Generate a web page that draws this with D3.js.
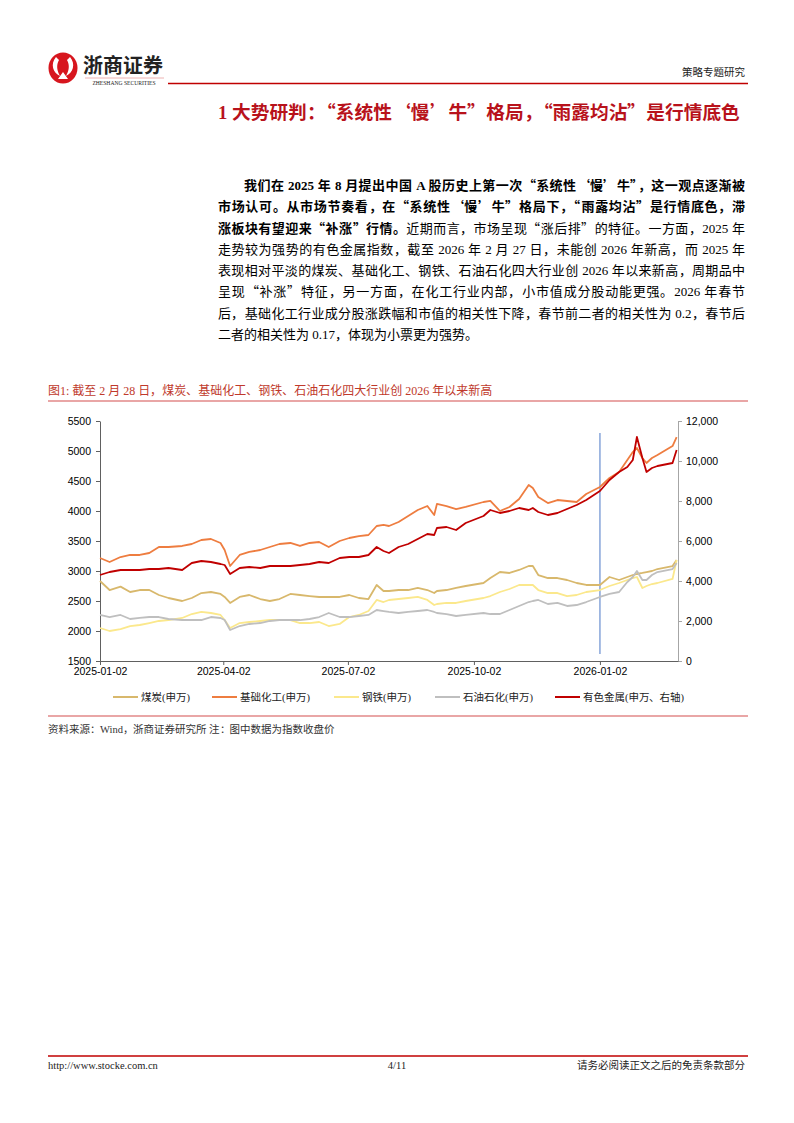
<!DOCTYPE html>
<html>
<head>
<meta charset="utf-8">
<script src="https://cdn.jsdelivr.net/npm/d3@7"></script>
<style>
  @font-face { font-family: "CJKPunct"; font-weight: normal;
    src: local("Noto Sans CJK SC"), local("Noto Sans CJK SC Regular"), local("NotoSansCJKsc-Regular");
    unicode-range: U+2018-201D, U+3000-303F, U+FF00-FFEF; }
  @font-face { font-family: "CJKPunct"; font-weight: bold;
    src: local("Noto Sans CJK SC Bold"), local("NotoSansCJKsc-Bold");
    unicode-range: U+2018-201D, U+3000-303F, U+FF00-FFEF; }
  body { margin: 0; background: #fff; }
  #page { position: relative; width: 794px; height: 1123px; overflow: hidden; }
  #page svg { position: absolute; left: 0; top: 0; }
  .cjk { font-family: "CJKPunct", "Liberation Serif", "Noto Sans CJK SC", serif; font-feature-settings: "fwid" 1; }
  .para { position: absolute; left: 218px; top: 175px; width: 527px;
          font-size: 13px; line-height: 21.3px; color: #000; }
  .para div { text-align: justify; text-align-last: justify; white-space: nowrap; }
  .para div.last { text-align-last: left; }
  .para div.first { padding-left: 26px; }
  .para b { font-weight: bold; }
</style>
</head>
<body>
<div id="page">
  <div class="para cjk">
    <div class="first"><b>我们在 2025 年 8 月提出中国 A 股历史上第一次“系统性‘慢’牛”，这一观点逐渐被</b></div>
    <div><b>市场认可。从市场节奏看，在“系统性‘慢’牛”格局下，“雨露均沾”是行情底色，滞</b></div>
    <div><b>涨板块有望迎来“补涨”行情。</b>近期而言，市场呈现“涨后排”的特征。一方面，2025 年</div>
    <div>走势较为强势的有色金属指数，截至 2026 年 2 月 27 日，未能创 2026 年新高，而 2025 年</div>
    <div>表现相对平淡的煤炭、基础化工、钢铁、石油石化四大行业创 2026 年以来新高，周期品中</div>
    <div>呈现“补涨”特征，另一方面，在化工行业内部，小市值成分股动能更强。2026 年春节</div>
    <div>后，基础化工行业成分股涨跌幅和市值的相关性下降，春节前二者的相关性为 0.2，春节后</div>
    <div class="last">二者的相关性为 0.17，体现为小票更为强势。</div>
  </div>
</div>
<script>
// ---- data (weekly-ish closes) ----
let dates = ["2025-01-02","2025-01-09","2025-01-17","2025-01-24","2025-01-31","2025-02-07","2025-02-14","2025-02-21","2025-03-03","2025-03-10","2025-03-17","2025-03-24","2025-03-31",
  "2025-04-03","2025-04-07",
  "2025-04-14","2025-04-21","2025-04-29","2025-05-06","2025-05-13","2025-05-21","2025-05-28","2025-06-04","2025-06-11","2025-06-18","2025-06-26","2025-07-03","2025-07-10","2025-07-17",
  "2025-07-23","2025-07-28","2025-08-01",
  "2025-08-08","2025-08-15","2025-08-22","2025-08-29",
  "2025-09-03",
  "2025-09-05","2025-09-12","2025-09-19","2025-09-26","2025-10-09","2025-10-14","2025-10-21","2025-10-28","2025-11-04","2025-11-11",
  "2025-11-14",
  "2025-11-18","2025-11-25","2025-12-02","2025-12-09","2025-12-16","2025-12-23","2026-01-02","2026-01-09","2026-01-16",
  "2026-01-22","2026-01-26","2026-01-29","2026-02-02","2026-02-05","2026-02-09",
  "2026-02-13","2026-02-24","2026-02-27"];

// 煤炭(申万) - left axis
let coal = [2833,2683,2740,2650,2683,2683,2600,2550,2500,2550,2633,2650,2617,
  2567,2467,
  2567,2600,2533,2500,2533,2617,2600,2583,2567,2567,2567,2600,2550,2533,
  2767,2667,2667,
  2683,2683,2717,2683,
  2633,
  2667,2683,2717,2750,2800,2883,2983,2967,3017,3083,
  3083,
  2933,2883,2883,2850,2800,2767,2767,2900,2850,
  2900,2933,2950,2967,2983,3000,
  3033,3083,3183];

// 基础化工(申万) - left axis
let chem = [3217,3150,3233,3267,3267,3300,3400,3400,3417,3450,3517,3533,3467,
  3350,3083,
  3267,3317,3350,3400,3450,3467,3417,3467,3483,3400,3500,3550,3583,3600,
  3750,3767,3750,
  3817,3917,4017,4083,
  3933,
  4117,4083,4033,4067,4150,4167,4000,4067,4200,4433,
  4383,
  4233,4133,4183,4167,4150,4283,4400,4550,4650,
  4850,4983,5050,4883,4800,4883,
  4933,5083,5233];

// 钢铁(申万) - left axis
let steel = [2050,2000,2033,2083,2100,2133,2167,2183,2217,2283,2317,2300,2267,
  2183,2050,
  2133,2150,2167,2183,2183,2183,2133,2133,2150,2083,2117,2233,2267,2333,
  2517,2483,2517,
  2533,2550,2567,2517,
  2433,
  2450,2467,2467,2500,2550,2583,2650,2700,2767,2767,
  2767,
  2683,2633,2633,2583,2600,2650,2683,2750,2800,
  2850,2883,2900,2717,2750,2783,
  2800,2867,3183];

// 石油石化(申万) - left axis
let petro = [2267,2233,2267,2200,2217,2233,2233,2200,2183,2183,2183,2233,2217,
  2183,2017,
  2083,2117,2133,2167,2183,2183,2183,2200,2233,2300,2233,2233,2250,2267,
  2350,2333,2317,
  2300,2317,2333,2350,
  2317,
  2300,2283,2250,2267,2300,2283,2283,2350,2417,2483,
  2500,
  2517,2450,2467,2417,2433,2483,2567,2617,2650,
  2817,2900,3000,2850,2850,2933,
  2983,3033,3133];

// 有色金属(申万) - right axis
let metal = [4300,4450,4550,4550,4550,4600,4600,4650,4550,4900,5000,4950,4850,
  4800,4350,
  4650,4700,4650,4750,4750,4750,4800,4850,4950,4900,5150,5200,5200,5300,
  5700,5500,5400,
  5700,5850,6100,6350,
  6300,
  6650,6700,6550,6900,7250,7550,7400,7500,7650,7550,
  7650,
  7450,7300,7400,7600,7800,8050,8500,9050,9450,
  9700,10050,11200,10150,9450,9650,
  9750,9900,10550];

let seriesNames = ["煤炭(申万)", "基础化工(申万)", "钢铁(申万)", "石油石化(申万)", "有色金属(申万、右轴)"];
let seriesColors = ["#d8b86c", "#ee7d40", "#fbe88c", "#bfbfbf", "#c00000"];
let leftTicks = [1500, 2000, 2500, 3000, 3500, 4000, 4500, 5000, 5500];
let rightTicks = [0, 2000, 4000, 6000, 8000, 10000, 12000];
let xTicks = ["2025-01-02", "2025-04-02", "2025-07-02", "2025-10-02", "2026-01-02"];
let markerDate = "2026-01-02";   // blue vertical marker
let markerRange = [350, 11400];  // on right axis

let parse = d3.timeParse("%Y-%m-%d");
let red = "#c00000";
let sans = '"Liberation Sans", Arial, sans-serif';

let svg = d3.select('#page').append('svg')
    .attr('width', 794)
    .attr('height', 1123);

// small helper for CJK text with full width punctuation
function cjkText(xp, yp, size, fill, str) {
    return svg.append('text').attr('class', 'cjk')
        .attr('x', xp).attr('y', yp)
        .attr('font-size', size).attr('fill', fill)
        .text(str);
}

// ---- header ----
let logo = svg.append('g').attr('transform', 'translate(63,68)');
logo.append('ellipse').attr('rx', 14.5).attr('ry', 15.5).attr('fill', '#d7161e');
logo.append('path')
    .attr('d', 'M-7,-11 C-13,-4 -10,5 -3,8 C-6,3 -7,-3 -4,-8 Z M7,-11 C13,-4 10,5 3,8 C6,3 7,-3 4,-8 Z M-5,11 L0,4 L5,11 Z')
    .attr('fill', '#fff');
svg.append('text').attr('x', 83).attr('y', 73)
    .attr('font-family', '"Noto Sans CJK SC", sans-serif').attr('font-weight', 'bold')
    .attr('font-size', 20).attr('fill', '#222').text('浙商证券');
svg.append('line').attr('x1', 85).attr('x2', 164).attr('y1', 78).attr('y2', 78)
    .attr('stroke', '#e8a0a0').attr('stroke-width', 0.8);
svg.append('text').attr('x', 124).attr('y', 85).attr('text-anchor', 'middle')
    .attr('font-family', '"Liberation Serif", serif').attr('font-size', 5.6)
    .attr('fill', '#222').text('ZHESHANG SECURITIES');
svg.append('line').attr('x1', 168).attr('x2', 748).attr('y1', 83.5).attr('y2', 83.5)
    .attr('stroke', red).attr('stroke-width', 1.6);
cjkText(745, 76, 10.5, '#222', '策略专题研究').attr('text-anchor', 'end');

// ---- section title ----
cjkText(218, 119, 18.7, '#b8121b', '1 大势研判：“系统性‘慢’牛”格局，“雨露均沾”是行情底色')
    .attr('font-weight', 'bold');

// ---- figure caption ----
cjkText(48, 395, 12, '#c0392b', '图1:   截至 2 月 28 日，煤炭、基础化工、钢铁、石油石化四大行业创 2026 年以来新高');
svg.append('line').attr('x1', 48).attr('x2', 748).attr('y1', 401).attr('y2', 401)
    .attr('stroke', red).attr('stroke-width', 0.7);

// ---- chart ----
let x = d3.scaleTime().domain([parse("2025-01-02"), parse("2026-02-28")]).range([100, 678]);
let yL = d3.scaleLinear().domain([1500, 5500]).range([661, 421]);
let yR = d3.scaleLinear().domain([0, 12000]).range([661, 421]);

let leftAxis = svg.append('g').attr('transform', 'translate(100,0)')
    .call(d3.axisLeft(yL).tickValues(leftTicks).tickSize(4).tickPadding(5).tickSizeOuter(0)
        .tickFormat(d3.format('d')));
let rightAxis = svg.append('g').attr('transform', 'translate(678,0)')
    .call(d3.axisRight(yR).tickValues(rightTicks).tickSize(4).tickPadding(4).tickSizeOuter(0)
        .tickFormat(d3.format(',')));
let bottomAxis = svg.append('g').attr('transform', 'translate(0,661)')
    .call(d3.axisBottom(x).tickValues(xTicks.map(parse)).tickSize(4).tickPadding(3).tickSizeOuter(0)
        .tickFormat(d3.timeFormat('%Y-%m-%d')));

[leftAxis, rightAxis, bottomAxis].forEach(function(a) {
    a.selectAll('text').attr('font-family', sans).attr('font-size', 10.5).attr('fill', '#000');
});
leftAxis.selectAll('path, line').attr('stroke', '#606060');
bottomAxis.selectAll('path, line').attr('stroke', '#606060');
rightAxis.selectAll('path, line').attr('stroke', '#a6a6a6');

// blue marker
svg.append('line')
    .attr('x1', x(parse(markerDate))).attr('x2', x(parse(markerDate)))
    .attr('y1', yR(markerRange[1])).attr('y2', yR(markerRange[0]))
    .attr('stroke', '#8eaadc').attr('stroke-width', 1.6);

let series = [coal, chem, steel, petro, metal];
let scales = [yL, yL, yL, yL, yR];
series.forEach(function(vals, k) {
    let line = d3.line()
        .x(function(d, i) { return x(parse(dates[i])); })
        .y(function(d) { return scales[k](d); });
    svg.append('path')
        .datum(vals)
        .attr('d', line)
        .attr('fill', 'none')
        .attr('stroke', seriesColors[k])
        .attr('stroke-width', 1.8)
        .attr('stroke-linejoin', 'round');
});

// ---- legend ----
let legendX = [113, 212, 334, 435, 555];
let legend = svg.selectAll('.leg')
    .data(seriesNames)
    .enter()
    .append('g')
    .attr('transform', function(d, i) { return 'translate(' + legendX[i] + ',697)'; });
legend.append('line').attr('x1', 0).attr('x2', 25).attr('y1', 0).attr('y2', 0)
    .attr('stroke', function(d, i) { return seriesColors[i]; }).attr('stroke-width', 2);
legend.append('text').attr('class', 'cjk').attr('x', 28).attr('y', 3.8)
    .attr('font-size', 10.5).attr('fill', '#222')
    .text(function(d) { return d; });

// ---- source ----
svg.append('line').attr('x1', 48).attr('x2', 748).attr('y1', 716).attr('y2', 716)
    .attr('stroke', red).attr('stroke-width', 0.7);
cjkText(48, 733, 10.5, '#333', '资料来源：Wind，浙商证券研究所  注：图中数据为指数收盘价');

// ---- footer ----
svg.append('line').attr('x1', 48).attr('x2', 748).attr('y1', 1056).attr('y2', 1056)
    .attr('stroke', red).attr('stroke-width', 1.4);
svg.append('text').attr('x', 48).attr('y', 1069)
    .attr('font-family', '"Liberation Serif", serif').attr('font-size', 10.5).attr('fill', '#222')
    .text('http://www.stocke.com.cn');
svg.append('text').attr('x', 397).attr('y', 1069).attr('text-anchor', 'middle')
    .attr('font-family', '"Liberation Serif", serif').attr('font-size', 10.5).attr('fill', '#222')
    .text('4/11');
cjkText(745, 1069, 10.5, '#222', '请务必阅读正文之后的免责条款部分').attr('text-anchor', 'end');
</script>
</body>
</html>
